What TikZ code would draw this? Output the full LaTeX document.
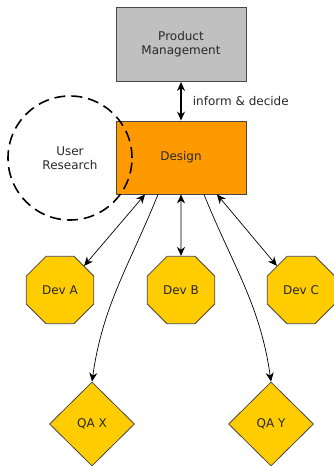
\documentclass[tikz,border=0pt]{standalone}
\usepackage{fontspec}
\setmainfont{DejaVu Sans}
\definecolor{pmgray}{RGB}{192,192,192}
\definecolor{dsorange}{RGB}{255,153,0}
\definecolor{devyellow}{RGB}{255,204,0}
\definecolor{edgegray}{RGB}{70,70,70}
\definecolor{txtgray}{RGB}{40,40,40}
\usetikzlibrary{arrows.meta,positioning,shapes.geometric}

\begin{document}
\begin{tikzpicture}[
  x=1pt,y=-1pt,
  every node/.style={font=\fontsize{12}{14}\selectfont,text=txtgray},
  teambox/.style={draw=edgegray,line width=0.9pt,minimum width=130pt,minimum height=74pt,align=center,inner sep=2pt},
  devoct/.style={regular polygon,regular polygon sides=8,draw=edgegray,fill=devyellow,line width=0.8pt,minimum size=73pt,inner sep=0pt},
  qadia/.style={diamond,draw=edgegray,fill=devyellow,line width=0.8pt,minimum width=85pt,minimum height=84pt,inner sep=0pt},
  link/.style={{Stealth[length=9pt,width=8pt]}-{Stealth[length=9pt,width=8pt]},line width=0.7pt},
  flow/.style={-{Stealth[length=9pt,width=8pt]},line width=0.7pt},
]
  \useasboundingbox (0,0) rectangle (334,466);

  % Management and design
  \node[teambox,fill=pmgray] (pm) at (181,44.5) {Product\\Management};
  \node[teambox,fill=dsorange,minimum height=73pt] (design) at (181,157.5) {Design};
  \draw[link,line width=1.1pt] (pm) -- node[right=8pt] (inform) {inform \& decide} (design);

  % User research (drawn over design)
  \node[circle,draw,dashed,dash pattern=on 11pt off 6pt,line width=1.6pt,minimum size=124pt,align=center] (research) at (70,158) {User\\Research};

  % Devs
  \node[devoct] (deva) at (60,290) {Dev A};
  \node[devoct] (devb) at (181,290) {Dev B};
  \node[devoct] (devc) at (301,290) {Dev C};
  \draw[link] ([xshift=-36pt]design.south) -- (deva.north east);
  \draw[link] (design) -- (devb);
  \draw[link] ([xshift=36pt]design.south) -- (devc.north west);

  % QA
  \node[qadia] (qax) at (92,424) {QA X};
  \node[qadia] (qay) at (271,424) {QA Y};
  \draw[flow] ([xshift=-23pt]design.south) to[out=-112,in=82] (qax.north);
  \draw[flow] ([xshift=23pt]design.south) to[out=-68,in=98] (qay.north);
\end{tikzpicture}
\end{document}
